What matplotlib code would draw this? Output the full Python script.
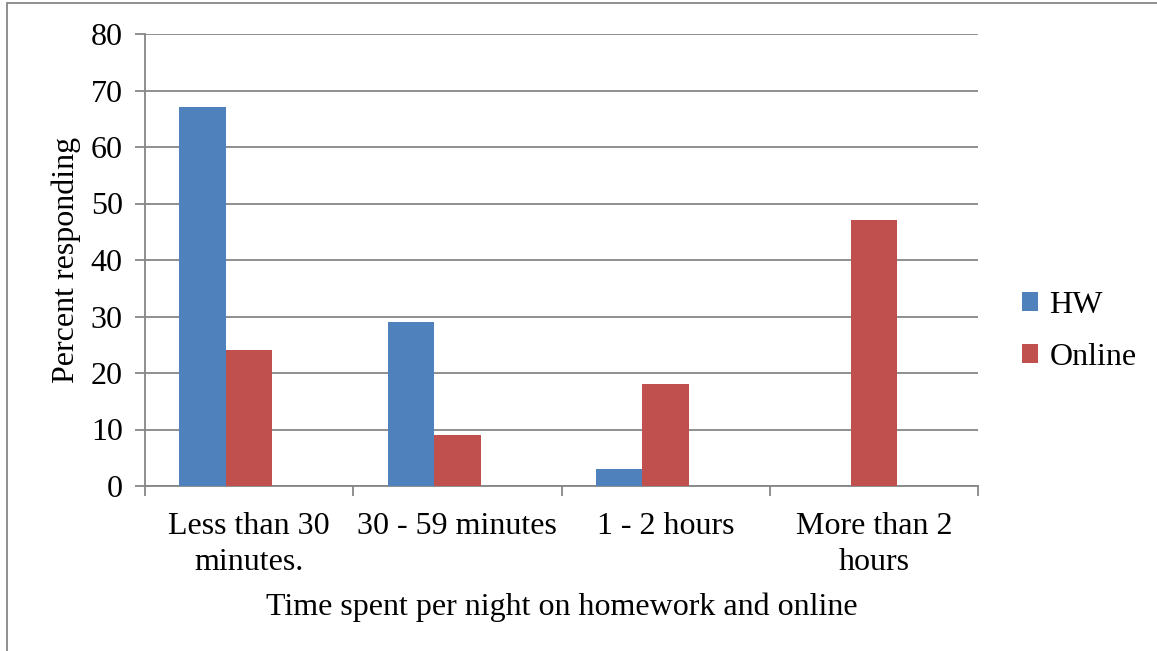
import numpy as np
import matplotlib.pyplot as plt
from matplotlib.patches import Rectangle

categories = ["Less than 30\nminutes.", "30 - 59 minutes", "1 - 2 hours", "More than 2\nhours"]
hw = [67, 29, 3, 0]
online = [24, 9, 18, 47]

plt.rcParams['font.family'] = ['Liberation Serif', 'DejaVu Serif']
fs = 23

fig = plt.figure(figsize=(11.57, 6.51), dpi=100)
ax = fig.add_axes([145 / 1157, 165 / 651, 833 / 1157, 452 / 651])

x = np.arange(len(categories))
w = 0.2233
ax.bar(x - w, hw, width=w, color="#4F81BD", label="HW", zorder=3)
ax.bar(x, online, width=w, color="#C0504D", label="Online", zorder=3)

grid_c = "#868686"
ax.set_xlim(-0.5, 3.5)
ax.set_ylim(0, 80)
ax.set_yticks(range(0, 81, 10))
ax.yaxis.grid(True, color=grid_c, linewidth=1.3, zorder=0)
ax.set_xticks(x)
ax.set_xticklabels(categories, linespacing=1.3)
ax.set_xticks(np.arange(-0.5, 3.6, 1), minor=True)
ax.tick_params(axis='x', which='major', length=0, pad=19, labelsize=fs)
ax.tick_params(axis='x', which='minor', length=7, width=1.3, color=grid_c, direction='out')
ax.tick_params(axis='y', length=7, width=1.3, color=grid_c, labelsize=fs, pad=9)

for s in ['top', 'right']:
    ax.spines[s].set_visible(False)
for s in ['left', 'bottom']:
    ax.spines[s].set_color(grid_c)
    ax.spines[s].set_linewidth(1.3)

ax.set_xlabel("Time spent per night on homework and online", fontsize=fs, labelpad=11)
ax.set_ylabel("Percent responding", fontsize=fs, labelpad=7)

ax.legend(loc='center left', bbox_to_anchor=(1.038, 0.342), frameon=False, fontsize=fs,
          handlelength=0.5, handleheight=0.5, handletextpad=0.35, labelspacing=0.72,
          borderaxespad=0)

# outer chart border
fig.patches.append(Rectangle((7 / 1157, -0.01), 1.0, 1.0054, transform=fig.transFigure,
                             fill=False, edgecolor="#868686", linewidth=1.3))

fig.savefig("out.png", dpi=100)
